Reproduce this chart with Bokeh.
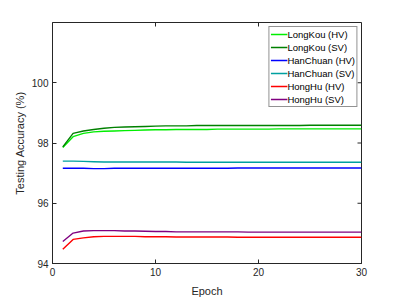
import math
from bokeh.plotting import figure
from bokeh.models import Range1d, FixedTicker, Legend, LegendItem
from bokeh.embed import file_html
from bokeh.resources import INLINE

epochs = list(range(1, 31))
longkou_hv = [97.85, 98.21, 98.32, 98.37, 98.39, 98.40, 98.41, 98.42, 98.43, 98.44,
              98.44, 98.45, 98.45, 98.45, 98.45, 98.46, 98.46, 98.46, 98.46, 98.46,
              98.46, 98.47, 98.47, 98.47, 98.47, 98.47, 98.47, 98.47, 98.47, 98.47]
longkou_sv = [97.87, 98.32, 98.40, 98.45, 98.49, 98.52, 98.53, 98.54, 98.55, 98.56,
              98.57, 98.57, 98.57, 98.58, 98.58, 98.58, 98.58, 98.58, 98.58, 98.58,
              98.58, 98.58, 98.58, 98.58, 98.59, 98.59, 98.59, 98.59, 98.59, 98.59]
hanchuan_hv = [97.16, 97.16, 97.16, 97.15, 97.15, 97.16, 97.16, 97.16, 97.16, 97.16,
               97.16, 97.16, 97.16, 97.16, 97.16, 97.16, 97.16, 97.17, 97.17, 97.17,
               97.17, 97.17, 97.17, 97.17, 97.17, 97.17, 97.17, 97.17, 97.17, 97.17]
hanchuan_sv = [97.40, 97.40, 97.39, 97.38, 97.37, 97.37, 97.37, 97.37, 97.37, 97.37,
               97.37, 97.37, 97.36, 97.36, 97.36, 97.36, 97.36, 97.36, 97.36, 97.36,
               97.36, 97.36, 97.36, 97.36, 97.36, 97.36, 97.36, 97.36, 97.36, 97.36]
honghu_hv = [94.47, 94.80, 94.85, 94.89, 94.90, 94.90, 94.90, 94.90, 94.89, 94.89,
             94.89, 94.88, 94.88, 94.88, 94.88, 94.88, 94.88, 94.87, 94.87, 94.87,
             94.87, 94.87, 94.87, 94.87, 94.87, 94.87, 94.87, 94.87, 94.87, 94.87]
honghu_sv = [94.73, 95.01, 95.08, 95.09, 95.09, 95.09, 95.08, 95.08, 95.07, 95.06,
             95.06, 95.05, 95.05, 95.05, 95.05, 95.05, 95.05, 95.05, 95.04, 95.04,
             95.04, 95.04, 95.04, 95.04, 95.04, 95.04, 95.04, 95.04, 95.04, 95.04]

series_names = ["LongKou (HV)", "LongKou (SV)", "HanChuan (HV)", "HanChuan (SV)",
                "HongHu (HV)", "HongHu (SV)"]
series_values = [longkou_hv, longkou_sv, hanchuan_hv, hanchuan_sv, honghu_hv, honghu_sv]
series_colors = ["#00EE00", "#008000", "#0000FF", "#00A0A0", "#FF0000", "#800080"]

x_ticks = [0, 10, 20, 30]
y_ticks = [94, 96, 98, 100]
x_min, x_max = 0, 30
y_min, y_max = 94, 102

AX = "#262626"
FONT = "Liberation Sans"

p = figure(width=399, height=299, output_backend="svg", toolbar_location=None,
           x_range=Range1d(x_min, x_max), y_range=Range1d(y_min, y_max),
           min_border_left=52, min_border_right=38, min_border_top=22, min_border_bottom=34,
           background_fill_color="white", border_fill_color="white")
p.grid.visible = False
p.outline_line_color = AX
p.outline_line_width = 1

for ax, ticks in ((p.xaxis[0], x_ticks), (p.yaxis[0], y_ticks)):
    ax.ticker = FixedTicker(ticks=ticks)
    ax.major_tick_in = 4
    ax.major_tick_out = 0
    ax.minor_tick_line_color = None
    ax.major_tick_line_color = AX
    ax.axis_line_color = AX
    ax.major_label_text_color = AX
    ax.major_label_text_font = FONT
    ax.major_label_text_font_size = "10px"
    ax.major_label_standoff = 4
    ax.axis_label_text_font = FONT
    ax.axis_label_text_font_size = "11px"
    ax.axis_label_text_font_style = "normal"
    ax.axis_label_text_color = AX
p.xaxis.axis_label = "Epoch"
p.yaxis.axis_label = "Testing Accuracy (%)"
p.xaxis.axis_label_standoff = 6
p.yaxis.axis_label_standoff = 3

# mirrored ticks on top and right edges (MATLAB box style)
p.ray(x=x_ticks, y=[y_max] * len(x_ticks), length=4, length_units="screen",
      angle=-math.pi / 2, line_color=AX, line_width=1)
p.ray(x=[x_max] * len(y_ticks), y=y_ticks, length=4, length_units="screen",
      angle=math.pi, line_color=AX, line_width=1)

items = []
for name, vals, col in zip(series_names, series_values, series_colors):
    r = p.line(epochs, vals, line_color=col, line_width=1.4)
    items.append(LegendItem(label=name, renderers=[r]))

legend = Legend(items=items, location="top_right",
                label_text_font=FONT, label_text_font_size="9.5px", label_text_color="black",
                glyph_width=17, glyph_height=12, label_height=12, label_standoff=0,
                spacing=1, padding=1, margin=4,
                border_line_color=AX, border_line_width=1,
                background_fill_color="white", background_fill_alpha=1)
p.add_layout(legend, "center")

open("out.html", "w").write(file_html(p, INLINE))
